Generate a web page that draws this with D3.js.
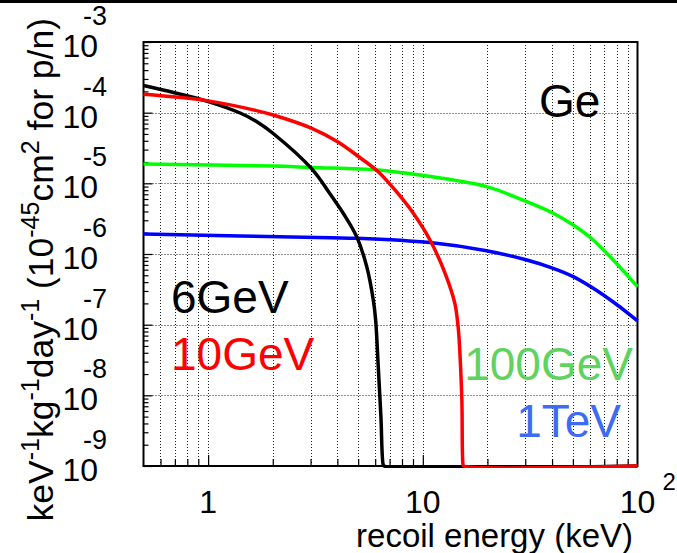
<!DOCTYPE html>
<html>
<head>
<meta charset="utf-8">
<script src="https://cdn.jsdelivr.net/npm/d3@7"></script>
<style>
  html, body { margin: 0; padding: 0; background: #fff; }
  svg { display: block; font-family: "Liberation Sans", Arial, Helvetica, sans-serif; }
</style>
</head>
<body>
<svg id="chart" width="677" height="553"></svg>
<script>
// Recoil energy grid (keV) and differential rates (events / keV / kg / day for 1e-45 cm^2)
const e6GeV   = [0.5, 0.689, 0.985, 1.41, 1.68, 2.01, 3.04, 3.70, 4.26, 4.92, 5.48, 5.88, 6.03, 6.20, 6.38, 6.54, 6.60, 100];
const r6GeV   = [2.42e-4, 1.93e-4, 1.46e-4, 9.89e-5, 7.50e-5, 5.07e-5, 1.60e-5, 7.07e-6, 3.77e-6, 1.76e-6, 6.62e-7, 2.23e-7, 1.16e-7, 2.55e-8, 4.99e-9, 1.04e-9, 0, 0];

const e10GeV  = [0.5, 0.985, 1.68, 2.01, 3.04, 4.01, 5.03, 6.20, 7.42, 9.03, 10.8, 12.7, 14.1, 14.6, 14.8, 15.2, 15.4, 15.5, 100];
const r10GeV  = [1.82e-4, 1.48e-4, 1.07e-4, 9.27e-5, 6.01e-5, 3.88e-5, 2.38e-5, 1.46e-5, 8.05e-6, 3.77e-6, 1.58e-6, 5.33e-7, 2.00e-7, 9.38e-8, 5.45e-8, 8.59e-9, 1.04e-9, 0, 0];

const e100GeV = [0.5, 2.01, 3.04, 6.20, 9.70, 19.8, 30.5, 40.5, 50.2, 62.2, 77.1, 92.3, 100];
const r100GeV = [1.88e-5, 1.76e-5, 1.68e-5, 1.55e-5, 1.31e-5, 8.97e-6, 5.50e-6, 3.77e-6, 2.57e-6, 1.58e-6, 8.22e-7, 4.53e-7, 3.45e-7];

const e1TeV   = [0.5, 3.70, 4.92, 10.8, 19.8, 30.5, 40.5, 50.2, 62.2, 77.1, 92.3, 100];
const r1TeV   = [1.92e-6, 1.70e-6, 1.67e-6, 1.45e-6, 1.11e-6, 8.22e-7, 6.27e-7, 4.78e-7, 3.27e-7, 2.09e-7, 1.38e-7, 1.13e-7];

// Axis ticks
const xMajor = [1, 10];
const xMinor = [0.6, 0.7, 0.8, 0.9, 2, 3, 4, 5, 6, 7, 8, 9, 20, 30, 40, 50, 60, 70, 80, 90];
const xLabels = [{v: 1, base: "1", exp: ""}, {v: 10, base: "10", exp: ""}, {v: 100, base: "10", exp: "2"}];
const yExponents = [-3, -4, -5, -6, -7, -8, -9];

const svg = d3.select("#chart");
const L = 143.5, R = 637.5, T = 42, B = 466;

const x = d3.scaleLog().domain([0.5, 100]).range([L, R]);
const y = d3.scaleLog().domain([1e-9, 1e-3]).range([B, T]);
const yFloor = y.domain()[0];

// thick rule across the very top
svg.append("rect").attr("x", 0).attr("y", 0).attr("width", 677).attr("height", 3).attr("fill", "#000");

// decades and their 2..9 subdivisions on the rate axis
const yMinor = [];
const yMajor = [];
for (let p = -9; p <= -3; p++) {
  yMajor.push(Math.pow(10, p));
  if (p < -3) for (let m = 2; m <= 9; m++) yMinor.push(m * Math.pow(10, p));
}

// dotted grid
const grid = svg.append("g").attr("stroke", "#222").attr("stroke-width", 1).attr("stroke-dasharray", "1,2");
grid.selectAll(".gx").data(xMajor.concat(xMinor)).join("line")
  .attr("x1", d => Math.round(x(d)) + 0.5).attr("x2", d => Math.round(x(d)) + 0.5)
  .attr("y1", T).attr("y2", B);
grid.selectAll(".gy").data(yMajor.filter(d => d > 1e-9 && d < 1e-3)).join("line")
  .attr("y1", d => Math.round(y(d)) + 0.5).attr("y2", d => Math.round(y(d)) + 0.5)
  .attr("x1", L).attr("x2", R);

// axis ticks pointing into the frame
const axX = svg.append("g").attr("transform", `translate(0,${B})`);
axX.append("g").call(d3.axisBottom(x).tickValues(xMajor).tickSize(-11).tickFormat(""));
axX.append("g").call(d3.axisBottom(x).tickValues(xMinor).tickSize(-7).tickFormat(""));
const axY = svg.append("g").attr("transform", `translate(${L},0)`);
axY.append("g").call(d3.axisLeft(y).tickValues(yMajor).tickSize(-9).tickFormat(""));
axY.append("g").call(d3.axisLeft(y).tickValues(yMinor).tickSize(-5).tickFormat(""));
svg.selectAll(".domain").remove();
svg.selectAll(".tick line").attr("stroke", "#000").attr("stroke-width", 1.2);

// frame
svg.append("rect").attr("x", L).attr("y", T).attr("width", R - L).attr("height", B - T)
  .attr("fill", "none").attr("stroke", "#000").attr("stroke-width", 2);

// curves, drawn over the frame; values below the axis floor sit on it
const line = d3.line()
  .x(d => x(d[0]))
  .y(d => y(Math.max(d[1], yFloor)))
  .curve(d3.curveCatmullRom.alpha(0.5));

const series = [
  {e: e1TeV, r: r1TeV, color: "#0000ff"},
  {e: e100GeV, r: r100GeV, color: "#00ff00"},
  {e: e6GeV, r: r6GeV, color: "#000000"},
  {e: e10GeV, r: r10GeV, color: "#ff0000"}
];
svg.append("clipPath").attr("id", "plotclip").append("rect")
  .attr("x", L - 2).attr("y", T - 2).attr("width", R - L + 4).attr("height", B - T + 4);
svg.append("g").attr("clip-path", "url(#plotclip)")
  .selectAll("path").data(series).join("path")
  .attr("d", s => line(s.e.map((v, i) => [v, s.r[i]])))
  .attr("fill", "none")
  .attr("stroke", s => s.color)
  .attr("stroke-width", 3.5)
  .attr("stroke-linejoin", "round");

// y tick labels: 10 with exponent
const yl = svg.append("g").attr("fill", "#000");
yExponents.forEach(p => {
  const py = y(Math.pow(10, p));
  yl.append("text").attr("x", 98).attr("y", py + 15).attr("text-anchor", "end")
    .attr("font-size", 32).text("10");
  yl.append("text").attr("x", 83).attr("y", py - 17)
    .attr("font-size", 27).text(String(p));
});

// x tick labels
xLabels.forEach(t => {
  const px = x(t.v);
  svg.append("text").attr("x", px).attr("y", 513).attr("text-anchor", "middle")
    .attr("font-size", 32).text(t.base);
  if (t.exp) {
    svg.append("text").attr("x", px + 25).attr("y", 490).attr("font-size", 24).text(t.exp);
  }
});

// axis titles
svg.append("text").attr("x", 633).attr("y", 547).attr("text-anchor", "end")
  .attr("font-size", 33).text("recoil energy (keV)");

const yt = svg.append("text").attr("text-anchor", "end").attr("font-size", 35.5)
  .attr("transform", "translate(53,18) rotate(-90)");
const sup = (txt) => { yt.append("tspan").attr("dy", -14).attr("font-size", 25).text(txt); };
const base = (txt) => { yt.append("tspan").attr("dy", 14).text(txt); };
yt.append("tspan").text("keV");
sup("-1"); base("kg"); sup("-1"); base("day"); sup("-1");
base("  (10"); sup("-45"); base("cm"); sup("2"); base(" for p/n)");

// annotations
svg.append("text").attr("x", 539).attr("y", 117).attr("font-size", 46).text("Ge");
svg.append("text").attr("x", 171).attr("y", 313).attr("font-size", 46).attr("fill", "#000").text("6GeV");
svg.append("text").attr("x", 171).attr("y", 370).attr("font-size", 46).attr("fill", "#ff0000").text("10GeV");
svg.append("text").attr("x", 633).attr("y", 380).attr("text-anchor", "end").attr("font-size", 46).attr("fill", "#5fd35f").text("100GeV");
svg.append("text").attr("x", 621).attr("y", 437).attr("text-anchor", "end").attr("font-size", 46).attr("fill", "#3d6cf2").text("1TeV");
</script>
</body>
</html>
